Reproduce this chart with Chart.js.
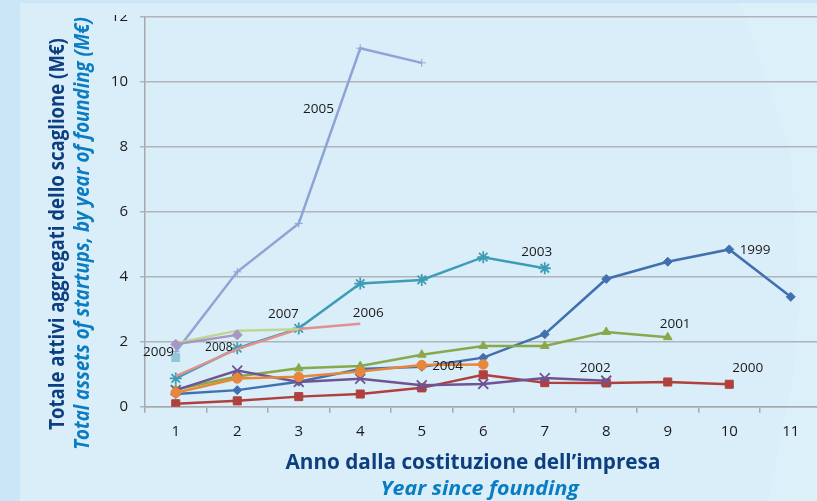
<!DOCTYPE html>
<html>
<head>
<meta charset="utf-8">
<title>Totale attivi aggregati dello scaglione</title>
<script src="https://cdn.jsdelivr.net/npm/chart.js@4.4.1/dist/chart.umd.min.js"></script>
<style>
  body { margin: 0; width: 817px; height: 501px; overflow: hidden; position: relative; background: #cbe7f7; font-family: "Open Sans", sans-serif; }
  #panel { position: absolute; left: 20px; top: 3px; right: 0; bottom: 0; background: #d9eef9; }
  #glow { position: absolute; left: 0; top: 0; width: 817px; height: 501px; background: #dcf0fa;
          clip-path: polygon(740px 3px, 790px 150px, 800px 300px, 793px 380px, 768px 501px, 817px 501px, 817px 3px); }
  #wrap { position: absolute; left: 0; top: 15px; width: 817px; height: 486px; overflow: hidden; }
  #chart { position: absolute; left: 0; top: -15px; }
  .title { position: absolute; left: 0; top: 0; white-space: nowrap; font-weight: 700; line-height: 1; transform-origin: 50% 50%; }
  .it { color: #0d3f80; }
  .en { color: #0a7cc2; font-style: italic; }
</style>
</head>
<body>
<div id="panel"></div>
<div id="glow"></div>
<div id="wrap"><canvas id="chart" width="840" height="501"></canvas></div>
<div class="title it" id="yTitleIt" style="font-size:22px">Totale attivi aggregati dello scaglione (M€)</div>
<div class="title en" id="yTitleEn" style="font-size:21px">Total assets of startups, by year of founding (M€)</div>
<div class="title it" id="xTitleIt" style="font-size:21px">Anno dalla costituzione dell’impresa</div>
<div class="title en" id="xTitleEn" style="font-size:20px">Year since founding</div>
<script>
// anni dalla costituzione (asse x)
const yearsSince = ['1', '2', '3', '4', '5', '6', '7', '8', '9', '10', '11'];
// scaglioni per anno di costituzione
const foundingYears = ['1999', '2000', '2001', '2002', '2003', '2004', '2005', '2006', '2007', '2008', '2009'];
const yTicks = [0, 2, 4, 6, 8, 10, 12];

// totale attivi (M€) per scaglione
const v1999 = [0.39, 0.51, 0.77, 1.16, 1.23, 1.51, 2.23, 3.93, 4.46, 4.84, 3.38];
const v2000 = [0.09, 0.18, 0.31, 0.39, 0.58, 0.98, 0.74, 0.73, 0.76, 0.69];
const v2001 = [0.53, 0.93, 1.18, 1.25, 1.60, 1.87, 1.87, 2.30, 2.14];
const v2002 = [0.51, 1.11, 0.76, 0.86, 0.66, 0.70, 0.88, 0.80];
const v2003 = [0.87, 1.80, 2.41, 3.79, 3.90, 4.60, 4.26];
const v2004 = [0.43, 0.87, 0.92, 1.08, 1.28, 1.30];
const v2005 = [1.69, 4.15, 5.64, 11.03, 10.58];
const v2006 = [0.94, 1.77, 2.39, 2.55];
const v2007 = [1.95, 2.34, 2.38];
const v2008 = [1.92, 2.21];
const v2009 = [1.51];
const series = [v1999, v2000, v2001, v2002, v2003, v2004, v2005, v2006, v2007, v2008, v2009];

// dove stanno le etichette degli scaglioni (anno, valore)
const labelAt = [[10.42, 4.82], [10.30, 1.18], [9.12, 2.54], [7.82, 1.18], [6.87, 4.77], [5.42, 1.26],
                 [3.32, 9.16], [4.13, 2.89], [2.75, 2.85], [1.70, 1.83], [0.72, 1.69]];

// stile delle serie
const colors = ['#4270ae', '#b0403c', '#88a84b', '#6e5493', '#3e9db5', '#e8873a',
                '#8ea4d4', '#e0908d', '#bfd690', '#a996c3', '#8fc6d8'];
const markers = ['rectRot', 'rect', 'triangle', 'crossRot', 'star', 'circle',
                 'cross', 'circle', 'circle', 'rectRot', 'rect'];
const radii = [4.5, 5.7, 5, 7, 6, 4.8, 4, 0, 0, 5, 5.5];

const gridColor = '#b0b4b8';
const axisColor = '#a6aaae';

// etichette "1999", "2000"... accanto alle linee
const seriesLabels = {
    id: 'seriesLabels',
    afterDatasetsDraw(chart) {
        const ctx = chart.ctx;
        const xs = chart.scales.x, ys = chart.scales.y;
        ctx.save();
        ctx.fillStyle = '#1a1a1a';
        ctx.textAlign = 'center';
        ctx.textBaseline = 'middle';
        foundingYears.forEach(function(y, i) {
            ctx.font = (y === '2008' ? '12px' : '13.5px') + ' "Open Sans"';
            ctx.fillText(y, xs.getPixelForValue(labelAt[i][0] - 1), ys.getPixelForValue(labelAt[i][1]));
        });
        ctx.restore();
    }
};

const datasets = foundingYears.map(function(y, i) {
    return {
        label: y,
        data: series[i],
        borderColor: colors[i],
        backgroundColor: colors[i],
        pointBorderColor: colors[i],
        pointStyle: markers[i],
        pointRadius: radii[i],
        pointBorderWidth: (markers[i] === 'crossRot' || markers[i] === 'star') ? 1.8 : 1,
        borderWidth: 2.5,
        tension: 0,
        order: -i
    };
});

new Chart(document.getElementById('chart'), {
    type: 'line',
    data: { labels: yearsSince, datasets: datasets },
    options: {
        responsive: false,
        animation: false,
        devicePixelRatio: 1,
        layout: { padding: { top: 16.7, right: 18.5, left: 0, bottom: 0 } },
        plugins: { legend: { display: false }, tooltip: { enabled: false } },
        scales: {
            x: {
                offset: true,
                grid: { offset: true, drawOnChartArea: false, tickLength: 6, color: axisColor, lineWidth: 1.5 },
                border: { color: axisColor, width: 1.5 },
                ticks: { color: '#1a1a1a', padding: 10, font: { family: 'Open Sans', size: 15 } },
                afterFit: function(s) { s.height = 94.3; }
            },
            y: {
                min: yTicks[0],
                max: yTicks[yTicks.length - 1],
                afterBuildTicks: function(s) { s.ticks = yTicks.map(function(v) { return { value: v }; }); },
                grid: { color: gridColor, lineWidth: 1.5, tickLength: 5 },
                border: { color: axisColor, width: 1.5 },
                ticks: { color: '#1a1a1a', padding: 12, font: { family: 'Open Sans', size: 15 } },
                afterFit: function(s) { s.width = 145; s.paddingTop = 0; s.paddingBottom = 0; }
            }
        }
    },
    plugins: [seriesLabels]
});

// titoli degli assi (testo HTML, adattato alla lunghezza)
function placeTitle(id, cx, cy, len, vertical) {
    const el = document.getElementById(id);
    const w = el.offsetWidth, h = el.offsetHeight;
    el.style.left = (cx - w / 2) + 'px';
    el.style.top = (cy - h / 2) + 'px';
    el.style.transform = (vertical ? 'rotate(-90deg) ' : '') + 'scaleX(' + (len / w) + ')';
}
placeTitle('yTitleIt', 55, 234, 392, true);
placeTitle('yTitleEn', 81, 233.5, 433, true);
placeTitle('xTitleIt', 472.5, 461, 375, false);
placeTitle('xTitleEn', 479, 488, 198, false);
</script>
</body>
</html>
